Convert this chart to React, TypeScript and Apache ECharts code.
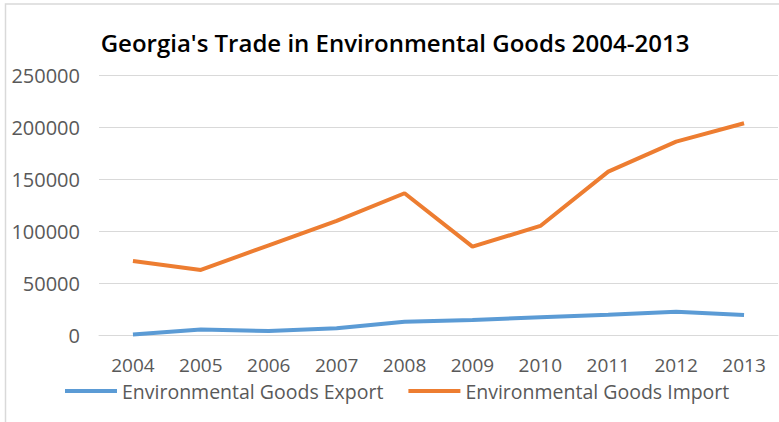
import React, { useEffect, useRef } from "react";
import * as echarts from "echarts";

const TITLE = "Georgia's Trade in Environmental Goods 2004-2013";
const years = ["2004", "2005", "2006", "2007", "2008", "2009", "2010", "2011", "2012", "2013"];
const exportName = "Environmental Goods Export";
const importName = "Environmental Goods Import";
const exportValues = [700, 5500, 4200, 6700, 13100, 14700, 17300, 19800, 22700, 19600];
const importValues = [71600, 62900, 86700, 110200, 136800, 85400, 105300, 157600, 186500, 204200];
const yTicks = { min: 0, max: 250000, interval: 50000 };

const FONT = "'Open Sans', sans-serif";
const GRAY = "#595959";

export default function App() {
  const ref = useRef<HTMLDivElement>(null);
  useEffect(() => {
    if (!ref.current) return;
    const chart = echarts.init(ref.current, null, { renderer: "svg" });
    chart.setOption({
      animation: false,
      backgroundColor: "#ffffff",
      title: {
        text: TITLE,
        left: 390,
        textAlign: "center",
        top: 25,
        textStyle: { fontFamily: FONT, fontWeight: 600, fontSize: 24, color: "#000000" },
      },
      graphic: [
        {
          type: "rect",
          shape: { x: 5.5, y: 4, width: 800, height: 450 },
          style: { fill: "none", stroke: "#d9d9d9", lineWidth: 1.5 },
          silent: true,
          z: -1,
        },
      ],
      legend: {
        left: 65,
        top: 381,
        padding: 0,
        itemWidth: 52,
        itemHeight: 4,
        itemGap: 25,
        icon: "rect",
        textStyle: { fontFamily: FONT, fontSize: 19.5, lineHeight: 18, color: GRAY },
        data: [exportName, importName],
      },
      grid: { left: 99, right: 1, top: 75.7, bottom: 86.7 },
      xAxis: {
        type: "category",
        data: years,
        boundaryGap: true,
        axisLine: { show: true, lineStyle: { color: "#d9d9d9", width: 1 } },
        axisTick: { show: false },
        axisLabel: { fontFamily: FONT, fontSize: 19, lineHeight: 18, color: GRAY, margin: 21 },
      },
      yAxis: {
        type: "value",
        min: yTicks.min,
        max: yTicks.max,
        interval: yTicks.interval,
        axisLine: { show: false },
        axisTick: { show: false },
        splitLine: { lineStyle: { color: "#d9d9d9", width: 1 } },
        axisLabel: {
          fontFamily: FONT,
          fontSize: 20,
          color: GRAY,
          margin: 19,
          formatter: (v: number) => String(v),
        },
      },
      series: [
        {
          name: exportName,
          type: "line",
          data: exportValues,
          showSymbol: false,
          symbol: "none",
          lineStyle: { color: "#5B9BD5", width: 4 },
          itemStyle: { color: "#5B9BD5" },
        },
        {
          name: importName,
          type: "line",
          data: importValues,
          showSymbol: false,
          symbol: "none",
          lineStyle: { color: "#ED7D31", width: 4 },
          itemStyle: { color: "#ED7D31" },
        },
      ],
    });
    return () => chart.dispose();
  }, []);
  return (
    <div
      ref={ref}
      style={{ position: "fixed", left: 0, top: 0, width: 779, height: 422 }}
    />
  );
}
